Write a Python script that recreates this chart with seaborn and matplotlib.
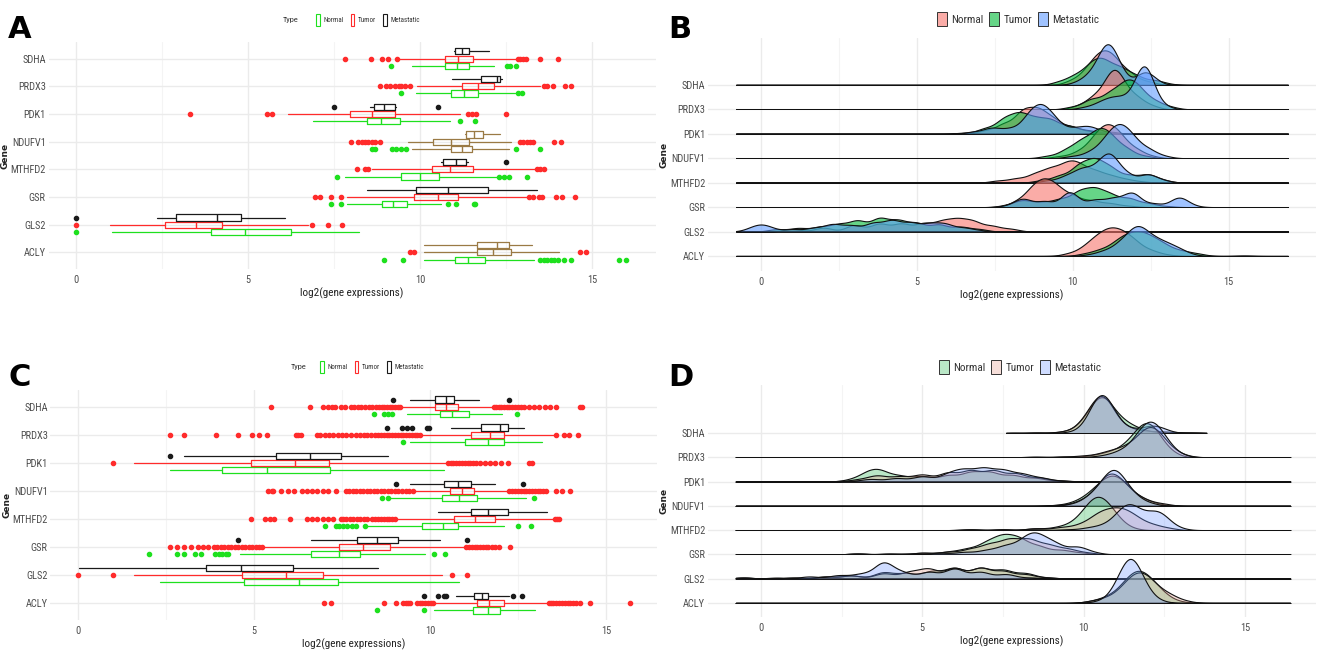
import numpy as np
import matplotlib
matplotlib.use("Agg")
import matplotlib.pyplot as plt
from matplotlib.patches import Patch
from matplotlib.colors import to_rgba
import seaborn as sns

# ---------------------------------------------------------------- data
GENES = ["SDHA", "PRDX3", "PDK1", "NDUFV1", "MTHFD2", "GSR", "GLS2", "ACLY"]
TYPES = ["Normal", "Tumor", "Metastatic"]
XTICKS = [0, 5, 10, 15]
XLABEL = "log2(gene expressions)"
YLABEL = "Gene"

# Panel A boxplots: [lower whisker, Q1, median, Q3, upper whisker] per gene
A_NORMAL_BOX = [[9.77, 10.74, 11.07, 11.42, 12.15], [9.89, 10.9, 11.27, 11.68, 12.76],
                [6.9, 8.46, 8.88, 9.43, 10.87], [9.77, 10.9, 11.22, 11.5, 12.58],
                [7.81, 9.46, 10.01, 10.56, 12.27], [7.88, 8.89, 9.22, 9.62, 10.62],
                [1.04, 3.91, 4.92, 6.25, 8.24], [10.13, 11.03, 11.39, 11.88, 13.31]]
A_TUMOR_BOX = [[9.38, 10.72, 11.11, 11.54, 12.8], [9.9, 11.23, 11.68, 12.15, 13.5],
               [6.17, 7.96, 8.6, 9.28, 11.17], [9.65, 10.38, 10.89, 11.42, 12.64],
               [8.61, 10.34, 10.87, 11.54, 13.37], [7.88, 9.83, 10.53, 11.11, 13.13],
               [1.0, 2.6, 3.48, 4.25, 6.75], [10.13, 11.66, 12.12, 12.64, 14.04]]
A_MET_BOX = [[11.0, 11.03, 11.21, 11.42, 12.0], [10.93, 11.76, 12.25, 12.33, 12.39],
             [8.55, 8.67, 8.95, 9.28, 9.3], [11.3, 11.33, 11.58, 11.82, 12.33],
             [10.6, 10.68, 11.05, 11.33, 11.4], [8.46, 9.89, 10.81, 11.99, 13.39],
             [2.34, 2.91, 4.09, 4.8, 6.08], [10.13, 11.66, 12.25, 12.58, 13.25]]
A_NORMAL_OUT = [[9.16, 12.52, 12.62, 12.8], [9.46, 12.85, 12.97], [11.17, 11.6],
                [8.6, 8.7, 9.2, 9.3, 9.45, 9.6, 12.8, 13.5], [7.6, 12.3, 12.45, 12.6, 13.1],
                [7.42, 7.69, 10.8, 11.05, 11.56, 11.6], [0.0],
                [8.95, 9.52, 13.5, 13.6, 13.7, 13.8, 13.9, 14.0, 14.2, 14.4, 15.8, 16.0]]
A_TUMOR_OUT = [[7.81, 8.57, 8.89, 9.06, 9.34, 12.84, 12.92, 13.0, 13.08, 13.49, 14.02],
               [8.85, 9.0, 9.13, 9.28, 9.38, 9.46, 9.55, 9.7, 13.6, 13.7, 13.86, 14.22, 14.4],
               [3.32, 5.56, 5.7, 11.39, 11.5, 11.64, 12.49],
               [8.0, 8.2, 8.3, 8.4, 8.5, 8.6, 8.7, 8.85, 12.9, 13.0, 13.1, 13.2, 13.3, 13.9, 14.1],
               [8.16, 8.4, 8.49, 13.4, 13.5, 13.6],
               [6.96, 7.1, 7.42, 7.69, 13.16, 13.3, 13.45, 13.55, 13.94, 14.14, 14.5],
               [0.0, 6.87, 7.33, 7.72], [9.7, 9.83, 14.65, 14.83]]
A_MET_OUT = [[], [], [7.51, 10.52], [], [12.49], [], [0.0], []]

# Panel C boxplots
C_NORMAL_BOX = [[9.34, 10.27, 10.63, 11.09, 12.05], [9.44, 11.0, 11.65, 12.1, 13.17],
                [2.6, 4.09, 5.37, 7.16, 10.39], [8.84, 10.33, 10.81, 11.33, 12.73],
                [8.18, 9.76, 10.37, 10.79, 12.09], [4.59, 6.63, 7.4, 8.0, 9.86],
                [2.32, 4.71, 6.27, 7.38, 10.81], [10.1, 11.21, 11.63, 11.99, 12.97]]
C_TUMOR_BOX = [[9.2, 10.13, 10.45, 10.78, 11.77], [9.77, 11.17, 11.71, 12.1, 13.55],
               [1.58, 4.92, 6.15, 7.14, 10.45], [9.56, 10.55, 10.9, 11.23, 12.22],
               [9.02, 10.69, 11.26, 11.83, 13.5], [5.25, 7.4, 8.09, 8.86, 10.99],
               [1.58, 4.65, 5.91, 6.96, 10.33], [10.1, 11.33, 11.68, 12.1, 13.33]]
C_MET_BOX = [[9.44, 10.13, 10.45, 10.67, 11.38], [10.6, 11.45, 11.99, 12.22, 12.67],
             [3.0, 5.63, 6.59, 7.46, 8.8], [9.44, 10.39, 10.79, 11.17, 11.85],
             [10.21, 11.17, 11.63, 12.21, 13.33], [6.63, 7.92, 8.5, 9.08, 10.27],
             [0.02, 3.64, 4.62, 6.11, 8.52], [10.73, 11.23, 11.47, 11.65, 12.25]]
C_NORMAL_OUT = [[8.4, 8.7, 8.8, 8.92, 12.46], [9.23], [], [8.62, 8.8, 12.94],
                [7.02, 7.32, 7.42, 7.52, 7.65, 7.78, 7.88, 8.16, 12.49, 12.85],
                [2.02, 2.8, 3.0, 3.31, 3.48, 3.9, 4.0, 4.1, 4.2, 4.27, 10.1, 10.42],
                [], [8.48, 9.83]]
C_TUMOR_OUT = [
    [5.47, 6.59, 6.96, 7.1, 7.2, 7.3, 7.46, 7.58, 7.75, 7.85, 7.95, 8.05, 8.15, 8.25, 8.36,
     8.46, 8.55, 8.62, 8.7, 8.78, 8.85, 8.92, 9.0, 9.08, 9.15, 11.8, 11.88, 11.95, 12.02,
     12.1, 12.18, 12.25, 12.32, 12.4, 12.5, 12.58, 12.67, 12.8, 12.95, 13.1, 13.25, 13.4,
     13.56, 14.26, 14.3],
    [2.6, 3.0, 3.91, 4.53, 4.95, 5.15, 5.37, 6.18, 6.25, 6.33, 6.8, 6.88, 7.0, 7.12, 7.25,
     7.38, 7.5, 7.62, 7.75, 7.88, 8.0, 8.12, 8.22, 8.32, 8.42, 8.52, 8.6, 8.68, 8.76, 8.84,
     8.92, 9.0, 9.08, 9.16, 9.24, 9.32, 9.4, 9.48, 9.56, 9.64, 9.72, 13.56, 13.8, 13.95, 14.2],
    [1.0, 10.5, 10.58, 10.66, 10.74, 10.82, 10.9, 10.98, 11.06, 11.14, 11.22, 11.3, 11.42,
     11.55, 11.7, 11.85, 12.0, 12.22, 12.8, 12.9],
    [5.4, 5.5, 5.55, 5.77, 5.95, 6.12, 6.35, 6.5, 6.65, 6.8, 6.95, 7.1, 7.34, 7.6, 7.7, 7.8,
     7.9, 8.0, 8.1, 8.2, 8.3, 8.4, 8.5, 8.6, 8.7, 8.8, 8.9, 9.0, 9.1, 9.2, 9.3, 9.4, 9.5,
     12.25, 12.33, 12.41, 12.49, 12.57, 12.65, 12.73, 12.81, 12.89, 12.97, 13.05, 13.13,
     13.21, 13.3, 13.56, 13.75, 13.98],
    [4.92, 5.3, 5.45, 5.57, 6.03, 6.5, 6.65, 6.8, 6.95, 7.1, 7.25, 7.46, 7.52, 7.62, 7.72,
     7.82, 7.92, 8.02, 8.12, 8.22, 8.36, 8.44, 8.52, 8.6, 8.68, 8.76, 8.84, 8.92, 9.0,
     13.54, 13.6, 13.66],
    [2.6, 2.8, 3.0, 3.2, 3.4, 3.55, 3.7, 3.85, 3.95, 4.05, 4.15, 4.25, 4.35, 4.45, 4.55,
     4.65, 4.75, 4.85, 4.95, 5.05, 5.15, 5.22, 11.03, 11.1, 11.18, 11.26, 11.34, 11.42,
     11.5, 11.58, 11.65, 11.75, 11.85, 11.95, 12.27],
    [0.0, 1.0, 10.61, 11.05],
    [6.99, 7.19, 8.68, 9.02, 9.23, 9.3, 9.37, 9.44, 9.62, 9.7, 9.78, 9.86, 9.94, 10.02,
     10.08, 13.36, 13.42, 13.5, 13.58, 13.66, 13.74, 13.82, 13.9, 13.98, 14.06, 14.14,
     14.26, 14.55, 15.66]]
C_MET_OUT = [[8.94, 12.25], [8.78, 9.2, 9.33, 9.47, 9.92, 9.98], [2.6], [9.02, 12.63], [],
             [4.53, 11.05], [], [9.83, 10.21, 10.4, 10.45, 12.34, 12.6]]

# Panel B ridgelines: expression values (centres) and their weights per gene
B_NORMAL_X = [[10.0, 10.5, 10.9, 11.3, 11.8, 12.4], [10.2, 10.7, 11.2, 11.5, 12.0, 12.5],
              [7.2, 7.8, 8.4, 8.9, 9.4, 10.0, 10.6], [9.6, 10.2, 10.7, 11.1, 11.5, 12.0, 12.5],
              [7.6, 8.2, 8.8, 9.3, 9.8, 10.2, 10.7, 11.2, 11.7, 12.2],
              [8.2, 8.7, 9.1, 9.5, 10.0, 10.6, 11.2, 11.8],
              [1.0, 2.0, 3.0, 3.8, 4.5, 5.2, 5.8, 6.3, 6.8, 7.4, 8.0],
              [9.9, 10.4, 10.8, 11.2, 11.6, 12.0, 12.5, 13.0]]
B_NORMAL_W = [[4, 12, 22, 20, 10, 3], [3, 10, 22, 20, 10, 3], [3, 9, 20, 20, 12, 6, 2],
              [2, 6, 16, 24, 18, 8, 2], [2, 4, 8, 12, 15, 14, 10, 6, 3, 1],
              [4, 12, 16, 12, 8, 5, 3, 1], [2, 3, 5, 6, 6, 6, 7, 8, 7, 4, 2],
              [2, 6, 12, 16, 14, 9, 4, 1]]
B_TUMOR_X = [[9.6, 10.1, 10.6, 11.0, 11.5, 12.0, 12.6, 13.0], [10.0, 10.6, 11.2, 11.7, 12.1, 12.6, 13.1],
             [6.5, 7.2, 7.8, 8.3, 8.8, 9.3, 9.9, 10.5, 11.2], [9.2, 9.8, 10.3, 10.8, 11.2, 11.7, 12.3],
             [9.0, 9.6, 10.2, 10.7, 11.2, 11.8, 12.4, 12.9],
             [7.9, 8.4, 9.0, 9.6, 10.2, 10.7, 11.2, 11.8, 12.4, 13.0],
             [0.5, 1.2, 1.9, 2.5, 3.1, 3.8, 4.4, 5.0, 5.7, 6.4, 7.0],
             [10.4, 10.9, 11.4, 11.8, 12.2, 12.6, 13.0, 13.5, 14.0, 15.5]]
B_TUMOR_W = [[3, 8, 16, 18, 14, 8, 4, 1], [2, 8, 12, 18, 14, 6, 2], [1, 5, 13, 17, 12, 12, 7, 3, 2],
             [2, 7, 14, 20, 16, 8, 2], [2, 6, 14, 18, 12, 6, 7, 2], [2, 7, 5, 8, 15, 17, 12, 9, 4, 1],
             [2, 3, 4, 6, 9, 11, 9, 7, 6, 4, 2], [2, 5, 10, 14, 15, 11, 7, 4, 2, 0.5]]
B_MET_X = [[10.2, 10.6, 11.0, 11.2, 11.5, 12.3, 12.6],
           [10.4, 10.9, 11.3, 11.7, 12.15, 12.3, 12.45, 12.9],
           [6.8, 7.4, 8.0, 8.6, 9.0, 9.4, 10.0, 10.5, 11.0], [10.0, 10.6, 11.1, 11.5, 11.9, 12.4, 12.9],
           [9.2, 9.8, 10.3, 10.8, 11.2, 11.7, 12.4, 12.9],
           [7.9, 8.4, 9.1, 9.9, 10.7, 11.3, 11.9, 12.6, 13.4, 13.8],
           [-0.3, 0.0, 0.3, 1.0, 1.7, 2.3, 2.9, 3.6, 4.2, 4.8, 5.4, 5.9, 6.5, 7.0],
           [10.5, 11.0, 11.5, 11.9, 12.2, 12.6, 13.0, 13.4, 13.8]]
B_MET_W = [[3, 10, 24, 24, 12, 14, 3], [2, 6, 9, 8, 16, 20, 14, 3], [2, 6, 5, 16, 22, 12, 5, 7, 2],
           [2, 6, 16, 24, 16, 8, 2], [2, 6, 12, 12, 24, 8, 8, 2], [1, 7, 5, 13, 6, 7, 12, 3, 8, 1],
           [2, 4, 2, 2, 3, 6, 5, 7, 9, 7, 6, 6, 3, 1], [1, 4, 9, 14, 16, 11, 8, 5, 1]]

# Panel D ridgelines
D_NORMAL_X = [[8.5, 9.4, 9.9, 10.2, 10.5, 10.7, 11.0, 11.3, 11.7, 12.1],
              [9.5, 10.3, 10.8, 11.3, 11.7, 12.0, 12.3, 12.7],
              [2.8, 3.3, 3.7, 4.3, 5.0, 5.8, 6.5, 7.1, 7.8, 8.5, 9.2],
              [9.2, 9.7, 10.1, 10.5, 10.9, 11.3, 11.8, 12.3],
              [6.5, 7.5, 8.5, 9.2, 9.7, 10.1, 10.4, 10.7, 11.0, 11.4],
              [3.0, 4.0, 5.0, 5.8, 6.4, 7.0, 7.5, 8.0, 8.6, 9.3, 9.9],
              [-0.5, 1.0, 2.0, 2.8, 3.8, 4.5, 5.3, 6.0, 6.8, 7.5, 8.2, 8.9],
              [10.3, 10.8, 11.3, 11.7, 12.1, 12.5, 13.0]]
D_NORMAL_W = [[1, 2, 6, 18, 28, 24, 12, 10, 5, 1], [1, 2, 5, 10, 18, 22, 14, 4],
              [2, 8, 10, 6, 6, 7, 10, 10, 7, 4, 1], [1, 3, 8, 18, 26, 18, 7, 2],
              [1, 1, 2, 3, 6, 14, 20, 16, 8, 2], [1, 1, 2, 3, 6, 12, 18, 16, 9, 5, 2],
              [1, 1, 2, 3, 6, 5, 7, 10, 10, 8, 5, 1], [2, 6, 16, 24, 16, 6, 1]]
D_TUMOR_X = [[7.8, 8.6, 9.4, 9.9, 10.2, 10.5, 10.7, 11.0, 11.4, 11.9, 12.5, 13.1, 13.6],
             [8.5, 9.3, 10.0, 10.6, 11.0, 11.4, 11.8, 12.1, 12.4, 12.8, 13.2],
             [3.0, 3.6, 4.3, 5.0, 5.8, 6.5, 7.2, 7.9, 8.6, 9.3],
             [9.2, 9.8, 10.2, 10.6, 10.9, 11.3, 11.8, 12.4],
             [6.5, 7.5, 8.5, 9.3, 9.9, 10.4, 10.8, 11.2, 11.6, 12.1, 12.6],
             [3.0, 4.0, 5.0, 5.8, 6.5, 7.1, 7.7, 8.3, 8.9, 9.5, 10.1],
             [-0.5, 1.0, 2.0, 2.8, 3.8, 4.6, 5.2, 6.0, 6.8, 7.5, 8.2, 8.9],
             [10.3, 10.8, 11.3, 11.7, 12.1, 12.6, 13.1]]
D_TUMOR_W = [[1, 1, 2, 6, 18, 28, 24, 10, 5, 3, 2, 1, 1], [1, 1, 2, 4, 6, 9, 16, 20, 14, 5, 1],
             [2, 6, 5, 7, 9, 11, 11, 8, 4, 1], [1, 3, 8, 18, 26, 18, 8, 3],
             [1, 1, 2, 3, 5, 12, 14, 15, 10, 5, 2], [1, 1, 2, 3, 6, 11, 16, 16, 10, 6, 2],
             [1, 1, 2, 3, 5, 6, 9, 10, 10, 7, 4, 1], [2, 5, 14, 22, 16, 8, 2]]
D_MET_X = [[9.5, 10.0, 10.3, 10.5, 10.7, 11.0, 11.4, 11.8, 12.1, 12.35, 12.6],
           [10.4, 10.9, 11.3, 11.7, 12.0, 12.3, 12.6, 13.0],
           [2.6, 3.4, 4.2, 5.0, 5.8, 6.3, 6.9, 7.5, 8.1, 8.7, 9.4],
           [9.5, 10.0, 10.4, 10.8, 11.1, 11.5, 12.0],
           [8.5, 9.5, 10.2, 10.7, 11.1, 11.35, 11.6, 11.9, 12.25, 12.5, 12.9],
           [3.0, 4.5, 5.5, 6.3, 7.0, 7.6, 8.2, 8.6, 9.1, 9.8, 10.3],
           [-0.6, 0.5, 1.5, 2.4, 3.1, 3.8, 4.4, 5.2, 6.0, 6.8, 7.6, 8.4],
           [10.4, 10.9, 11.2, 11.45, 11.7, 12.0, 12.4]]
D_MET_W = [[1, 4, 16, 28, 26, 12, 4, 3, 7, 5, 1], [1, 3, 6, 14, 22, 18, 8, 2],
           [1, 3, 4, 6, 8, 12, 14, 12, 8, 4, 1], [1, 4, 12, 24, 22, 10, 3],
           [1, 1, 3, 5, 10, 16, 12, 8, 14, 8, 2], [1, 1, 2, 3, 5, 10, 16, 18, 12, 9, 2],
           [1, 1, 2, 3, 4, 14, 5, 6, 9, 6, 4, 1], [1, 5, 14, 26, 14, 5, 1]]

# ---------------------------------------------------------------- style
W_PX, H_PX = 1320, 657
sns.set_theme(style="whitegrid")
NARROW = ["Roboto Condensed", "Archivo Narrow", "PT Sans Narrow", "Liberation Sans Narrow",
          "Open Sans Condensed", "Liberation Sans", "DejaVu Sans"]
plt.rcParams["font.family"] = NARROW
TXT = "#4D4D4D"
GRID = "#EBEBEB"
BOX_COLORS = {"Normal": "#1EE01E", "Tumor": "#FF2B2B", "Metastatic": "#1A1A1A"}
BROWN = "#9A7A45"
A_BROWN = {("NDUFV1", "Normal"), ("NDUFV1", "Tumor"), ("NDUFV1", "Metastatic"),
           ("ACLY", "Tumor"), ("ACLY", "Metastatic")}
DODGE = {"Normal": -0.26, "Tumor": 0.0, "Metastatic": 0.26}
B_COLORS = {"Normal": "#F8766D", "Tumor": "#00BA38", "Metastatic": "#619CFF"}
B_ALPHA = {"Normal": 0.6, "Tumor": 0.6, "Metastatic": 0.6}
D_COLORS = {"Normal": "#5CC87A", "Tumor": "#E8A292", "Metastatic": "#6E96FF"}
D_ALPHA = {"Normal": 0.42, "Tumor": 0.35, "Metastatic": 0.33}

fig = plt.figure(figsize=(W_PX / 100, H_PX / 100), dpi=100)
fig.patch.set_facecolor("white")


def rect(left, top, right, bottom):
    return [left / W_PX, 1 - bottom / H_PX, (right - left) / W_PX, (bottom - top) / H_PX]


def style_axes(ax, xlim, ylim):
    ax.set_facecolor("white")
    ax.set_xlim(*xlim)
    ax.set_ylim(*ylim)
    ax.set_xticks(XTICKS)
    ax.set_xticklabels([str(v) for v in XTICKS])
    ax.set_xticks([2.5, 7.5, 12.5], minor=True)
    ax.set_yticks(range(len(GENES), 0, -1))
    ax.set_yticklabels(GENES)
    ax.grid(which="major", color=GRID, lw=1.0)
    ax.grid(which="minor", axis="x", color="#F4F4F4", lw=0.8)
    for s in ax.spines.values():
        s.set_visible(False)
    ax.tick_params(axis="both", which="both", length=0)
    ax.tick_params(axis="y", pad=2, labelsize=7.5, labelcolor=TXT)
    ax.tick_params(axis="x", pad=4, labelsize=7.5, labelcolor=TXT)
    ax.set_xlabel(XLABEL, fontsize=8, color="#222222", labelpad=2)
    ax.set_ylabel(YLABEL, fontsize=6.5, fontweight="bold", color="#222222",
                  family=["DejaVu Sans"])
    ax.yaxis.set_label_coords(-0.065, 0.5)


def box_panel(r, xlim, boxes, outs, brown=()):
    ax = fig.add_axes(r)
    style_axes(ax, xlim, (0.4, 8.6))
    for t in TYPES:
        c = BOX_COLORS[t]
        for i, g in enumerate(GENES):
            lo, q1, med, q3, hi = boxes[t][i]
            st = [dict(whislo=lo, q1=q1, med=med, q3=q3, whishi=hi, fliers=outs[t][i])]
            lc = BROWN if (g, t) in brown else c
            ax.bxp(st, positions=[len(GENES) - i + DODGE[t]], widths=[0.22],
                   orientation="horizontal", showcaps=False, manage_ticks=False,
                   boxprops=dict(color=lc, lw=0.9), whiskerprops=dict(color=lc, lw=0.9),
                   medianprops=dict(color=lc, lw=1.0),
                   flierprops=dict(marker="o", markersize=3, markerfacecolor=c,
                                   markeredgecolor=c, linestyle="none"))
    return ax


def ridge_panel(r, xlim, ylim, xs, ws, colors, alphas, bw, clips, peak_px):
    bg = fig.add_axes(r)
    style_axes(bg, xlim, ylim)
    inv = fig.transFigure.inverted()
    row_h = 70
    rows = []
    for i, g in enumerate(GENES):
        lvl = len(GENES) - i
        x0, y0 = inv.transform(bg.transData.transform((xlim[0], lvl)))
        x1, _ = inv.transform(bg.transData.transform((xlim[1], lvl)))
        rax = fig.add_axes([x0, y0, x1 - x0, row_h / H_PX])
        rax.patch.set_alpha(0)
        for t in TYPES:
            x = np.asarray(xs[t][i], float)
            w = np.asarray(ws[t][i], float)
            sd = float(np.sqrt(np.cov(x, aweights=w)))
            sns.kdeplot(x=x, weights=w, bw_method=bw / sd, cut=80, clip=clips[i],
                        gridsize=600, fill=True, color=colors[t], alpha=alphas[t],
                        edgecolor="#111111", linewidth=0.8, legend=False, ax=rax)
        rax.set_xlim(*xlim)
        rax.axis("off")
        rows.append(rax)
    gmax = 0.0
    for rax in rows:
        for coll in rax.collections:
            for p in coll.get_paths():
                if len(p.vertices):
                    gmax = max(gmax, float(np.nanmax(p.vertices[:, 1])))
    for rax in rows:
        rax.set_ylim(0, gmax * row_h / peak_px)
    return bg


def box_legend(ycen, xtitle, xcenter):
    fig.text(xtitle / W_PX, 1 - ycen / H_PX, "Type", fontsize=6, color="#333333",
             ha="center", va="center")
    handles = [Patch(facecolor="white", edgecolor=BOX_COLORS[t], lw=0.8) for t in TYPES]
    fig.legend(handles, TYPES, loc="center", bbox_to_anchor=(xcenter / W_PX, 1 - ycen / H_PX),
               ncol=3, frameon=False, fontsize=5, handlelength=0.55, handleheight=2.3,
               handletextpad=0.5, columnspacing=1.0, labelcolor="#333333")


def ridge_legend(ycen, xcenter, colors, alphas):
    handles = [Patch(facecolor=to_rgba(colors[t], alphas[t]), edgecolor="#333333", lw=0.7)
               for t in TYPES]
    fig.legend(handles, TYPES, loc="center", bbox_to_anchor=(xcenter / W_PX, 1 - ycen / H_PX),
               ncol=3, frameon=False, fontsize=8, handlelength=0.9, handleheight=1.5,
               handletextpad=0.4, columnspacing=0.5, labelcolor="#333333")


# ---------------------------------------------------------------- panels
A = {"Normal": A_NORMAL_BOX, "Tumor": A_TUMOR_BOX, "Metastatic": A_MET_BOX}
AO = {"Normal": A_NORMAL_OUT, "Tumor": A_TUMOR_OUT, "Metastatic": A_MET_OUT}
C = {"Normal": C_NORMAL_BOX, "Tumor": C_TUMOR_BOX, "Metastatic": C_MET_BOX}
CO = {"Normal": C_NORMAL_OUT, "Tumor": C_TUMOR_OUT, "Metastatic": C_MET_OUT}

box_panel(rect(48.5, 42, 655.6, 269), (-0.8, 16.85), A, AO, A_BROWN)
box_panel(rect(50.5, 390, 657, 620), (-0.78, 16.44), C, CO)

BX = {"Normal": B_NORMAL_X, "Tumor": B_TUMOR_X, "Metastatic": B_MET_X}
BW = {"Normal": B_NORMAL_W, "Tumor": B_TUMOR_W, "Metastatic": B_MET_W}
DX = {"Normal": D_NORMAL_X, "Tumor": D_TUMOR_X, "Metastatic": D_MET_X}
DW = {"Normal": D_NORMAL_W, "Tumor": D_TUMOR_W, "Metastatic": D_MET_W}

full_b = (-0.8, 16.9)
full_d = (-0.78, 16.4)
ridge_panel(rect(708, 38, 1316, 271), (-1.7, 17.8), (0.386, 9.92), BX, BW,
            B_COLORS, B_ALPHA, 0.28, [full_b] * 8, 43)
ridge_panel(rect(708, 385, 1316, 617), (-1.64, 17.2), (0.42, 9.98), DX, DW,
            D_COLORS, D_ALPHA, 0.3, [(7.6, 13.8)] + [full_d] * 7, 44)

box_legend(20, 291, 368)
box_legend(367, 299, 372)
ridge_legend(19, 1018, B_COLORS, B_ALPHA)
ridge_legend(367, 1020, D_COLORS, D_ALPHA)

for letter, (lx, ly) in zip("ABCD", [(8, 30), (668, 30), (8, 377), (668, 377)]):
    fig.text(lx / W_PX, 1 - ly / H_PX, letter, fontsize=22, fontweight="bold",
             color="black", ha="left", va="center", family=["DejaVu Sans"])

fig.savefig("out.png", dpi=100, facecolor="white")
